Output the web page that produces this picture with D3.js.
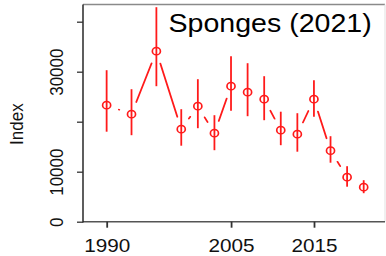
<!DOCTYPE html>
<html>
<head>
<meta charset="utf-8">
<script src="https://cdn.jsdelivr.net/npm/d3@7"></script>
<style>
  body { margin: 0; background: #fff; }
  svg { display: block; font-family: "Liberation Sans", Arial, sans-serif; }
</style>
</head>
<body>
<div class="chart"></div>
<script>
// sponge index by survey year, with interval bounds
const years = [1990, 1993, 1996, 1999, 2001, 2003, 2005, 2007, 2009, 2011, 2013, 2015, 2017, 2019, 2021];
const index = [23300, 21500, 34100, 18500, 23100, 17700, 27100, 25900, 24500, 18300, 17500, 24500, 14200, 8900, 6900];
const lower = [18000, 17300, 27100, 15200, 18700, 14300, 22200, 21100, 20300, 15300, 14000, 21000, 11800, 7000, 5700];
const upper = [30300, 26500, 42900, 22500, 28500, 21300, 33100, 31700, 29100, 22000, 21700, 28300, 17100, 11100, 8300];
const yTicks = [0, 10000, 20000, 30000, 40000];
const yLabels = ['0', '10000', '', '30000', ''];
const xTicks = [1990, 2005, 2015];
const title = 'Sponges (2021)';

const W = 386, H = 256;
// the original picture is a bit wider than tall, so draw in a squeezed box and stretch it
const SX = 1.12;
const margin = { top: 4.5, right: 1, bottom: 34.3, left: 83 };

const svg = d3.select('.chart')
  .append('svg')
  .attr('width', W)
  .attr('height', H)
  .attr('viewBox', `0 0 ${W / SX} ${H}`)
  .attr('preserveAspectRatio', 'none');

const x = d3.scaleLinear()
  .domain([1987.15, 2023.57])
  .range([margin.left / SX, (W - margin.right) / SX]);
const y = d3.scaleLinear()
  .domain([0, 43440])
  .range([H - margin.bottom, margin.top]);

const x0 = x.range()[0], x1 = x.range()[1];
const y0 = y.range()[0], y1 = y.range()[1];

// frame
svg.append('line').attr('x1', x0).attr('x2', x1).attr('y1', y1).attr('y2', y1)
  .attr('stroke', '#8a8a8a').attr('stroke-width', 1.4);
svg.append('line').attr('x1', x1).attr('x2', x1).attr('y1', y1).attr('y2', y0)
  .attr('stroke', '#e4e4e4').attr('stroke-width', 1);
svg.append('line').attr('x1', x0).attr('x2', x1).attr('y1', y0).attr('y2', y0)
  .attr('stroke', '#555').attr('stroke-width', 1.6);
svg.append('line').attr('x1', x0).attr('x2', x0).attr('y1', y1).attr('y2', y0 + 0.8)
  .attr('stroke', '#222').attr('stroke-width', 1.3);

// y axis
const gy = svg.append('g')
  .attr('transform', `translate(${x0},0)`)
  .call(d3.axisLeft(y).tickValues(yTicks).tickSize(6 / SX).tickSizeOuter(0)
    .tickFormat((d, i) => yLabels[i]));
gy.select('.domain').remove();
gy.selectAll('.tick line').attr('stroke', '#333').attr('stroke-width', 1.3);
gy.selectAll('.tick text')
  .attr('transform', 'rotate(-90)')
  .attr('x', 0)
  .attr('y', -19.7 / SX)
  .attr('dy', 0)
  .attr('text-anchor', 'middle')
  .attr('fill', '#111')
  .style('font-size', '17px');

// x axis
const gx = svg.append('g')
  .attr('transform', `translate(0,${y0})`)
  .call(d3.axisBottom(x).tickValues(xTicks).tickSize(6).tickSizeOuter(0)
    .tickFormat(d3.format('d')));
gx.select('.domain').remove();
gx.selectAll('.tick line').attr('stroke', '#333').attr('stroke-width', 1.6);
gx.selectAll('.tick text')
  .attr('y', 30)
  .attr('dy', 0)
  .attr('fill', '#111')
  .style('font-size', '18.5px');

svg.append('text')
  .attr('transform', `translate(${23.3 / SX},${(y0 + y1) / 2 + 11}) rotate(-90)`)
  .attr('text-anchor', 'middle')
  .attr('fill', '#111')
  .style('font-size', '17px')
  .text('Index');

svg.append('text')
  .attr('x', 371.7 / SX)
  .attr('y', 31.7)
  .attr('text-anchor', 'end')
  .attr('fill', '#000')
  .style('font-size', '25.5px')
  .text(title);

const red = '#ff1a1a';
const pts = years.map((yr, i) => ({ yr, v: index[i], lo: lower[i], hi: upper[i] }));

// error bars
svg.append('g').selectAll('line')
  .data(pts)
  .enter()
  .append('line')
  .attr('x1', d => x(d.yr)).attr('x2', d => x(d.yr))
  .attr('y1', d => y(d.lo)).attr('y2', d => y(d.hi))
  .attr('stroke', red)
  .attr('stroke-width', 1.6);

// type="b" style joins: segments with a gap around every point (gap measured in screen px)
const gap = 13;
const segs = [];
for (let i = 0; i < pts.length - 1; i++) {
  const ax = x(pts[i].yr) * SX, ay = y(pts[i].v);
  const bx = x(pts[i + 1].yr) * SX, by = y(pts[i + 1].v);
  const len = Math.hypot(bx - ax, by - ay);
  if (len <= 2 * gap) continue;
  const ux = (bx - ax) / len, uy = (by - ay) / len;
  segs.push({
    x1: (ax + ux * gap) / SX, y1: ay + uy * gap,
    x2: (bx - ux * gap) / SX, y2: by - uy * gap
  });
}
svg.append('g').selectAll('line')
  .data(segs)
  .enter()
  .append('line')
  .attr('x1', d => d.x1).attr('y1', d => d.y1)
  .attr('x2', d => d.x2).attr('y2', d => d.y2)
  .attr('stroke', red)
  .attr('stroke-width', 1.6)
  .attr('stroke-linecap', 'round');

// open circles
svg.append('g').selectAll('circle')
  .data(pts)
  .enter()
  .append('circle')
  .attr('cx', d => x(d.yr))
  .attr('cy', d => y(d.v))
  .attr('r', 3.6)
  .attr('fill', 'none')
  .attr('stroke', red)
  .attr('stroke-width', 1.5);
</script>
</body>
</html>
